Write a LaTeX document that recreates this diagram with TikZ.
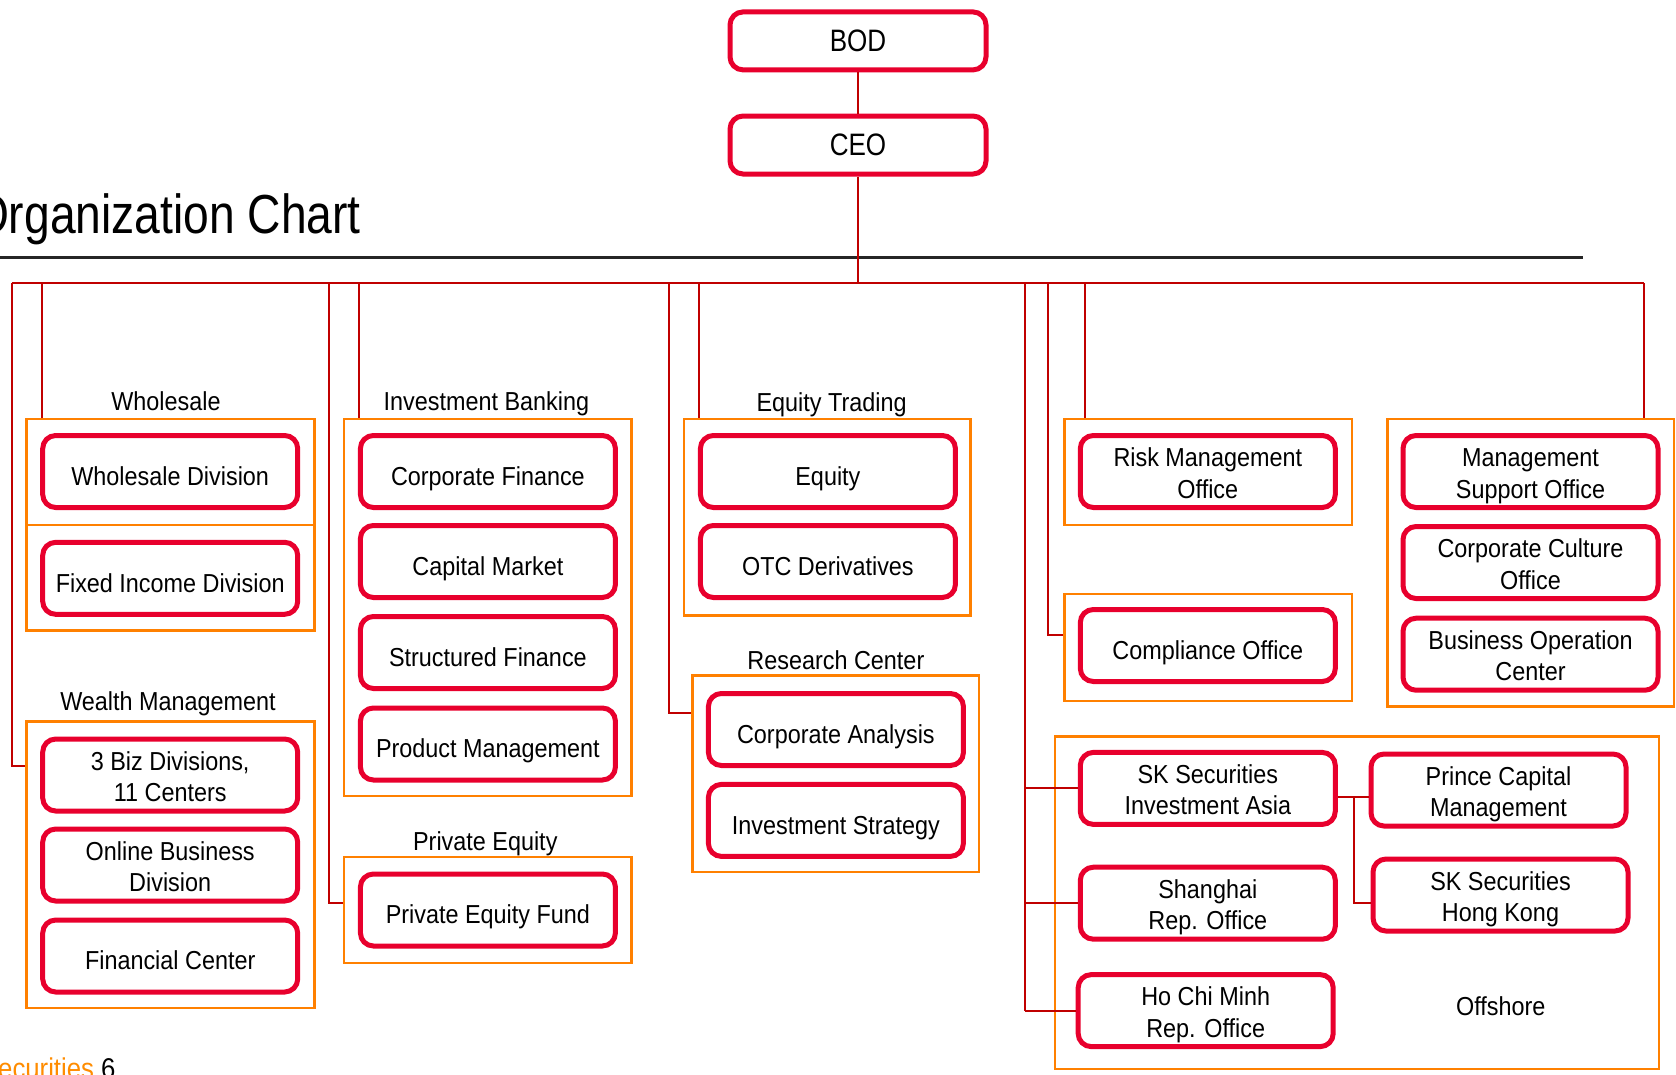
\documentclass[tikz,border=0pt]{standalone}
\usepackage{fontspec}
\setmainfont{Liberation Sans}
\newfontfamily\boxfam{Liberation Sans}[FakeStretch=0.9]
\newfontfamily\titlefam{Liberation Sans}[FakeStretch=0.84]
\usetikzlibrary{fit,calc}
\definecolor{boxred}{RGB}{232,0,45}
\definecolor{grporange}{RGB}{255,128,0}
\definecolor{connred}{RGB}{192,0,0}
\definecolor{footorange}{RGB}{255,140,0}
\newcommand\oneln[1]{\raisebox{-7.5pt}[\height][\depth]{\begin{tabular}{@{}c@{}}#1\end{tabular}}}
\newcommand\twoln[2]{\raisebox{-4.5pt}[\height][\depth]{\begin{tabular}{@{}c@{}}#1\\#2\end{tabular}}}
\tikzset{
  rbox/.style={draw=boxred, line width=5pt, rounded corners=13pt,
    minimum width=255pt, minimum height=72pt, inner sep=0pt,
    font={\boxfam\fontsize{26}{31.5}\selectfont}},
  topbox/.style={rbox, minimum width=256pt, minimum height=58pt,
    font={\titlefam\fontsize{31}{34}\selectfont}},
  obox/.style={draw=grporange, line width=2.5pt, inner sep=0pt},
  conn/.style={draw=connred, line width=2pt},
  lbl/.style={anchor=base, inner sep=0pt, font={\boxfam\fontsize{26}{31.5}\selectfont}}
}
\begin{document}
\begin{tikzpicture}[x=1pt,y=-1pt]
\useasboundingbox (0,0) rectangle (1676,1074);

% title and rule
\node[anchor=base east, inner sep=0pt, font={\titlefam\fontsize{55}{60}\selectfont}] (title) at (361,233) {Organization Chart};
\draw[line width=2.5pt, black!85] (0,257.6) -- (1583,257.6);

% top
\node[topbox] (bod) at (858,40.9) {BOD};
\node[topbox] (ceo) at (858,145) {CEO};

% group frames
\node[obox, fit={(26.7,419) (314.3,630.7)}] (wsgrp) {};
\node[obox, fit={(26.7,721.5) (314.3,1008)}] (wmgrp) {};
\node[obox, fit={(344,419) (631.7,796)}] (ibgrp) {};
\node[obox, fit={(344,857) (631.7,963)}] (pegrp) {};
\node[obox, fit={(684,419) (970.6,615.7)}] (etgrp) {};
\node[obox, fit={(692.6,675.6) (979,872)}] (rcgrp) {};
\node[obox, fit={(1064.6,419) (1352,525)}] (riskgrp) {};
\node[obox, fit={(1064.6,594) (1352,701)}] (compgrp) {};
\node[obox, fit={(1387.5,419) (1674,706.5)}] (msogrp) {};
\node[obox, fit={(1055,736.5) (1659,1069)}] (offgrp) {};
\draw[draw=grporange, line width=2.5pt] (wsgrp.west |- 0,524.8) -- (wsgrp.east |- 0,524.8);

% group labels
\node[lbl] (lws) at (166,410) {Wholesale};
\node[lbl] (lwm) at (168,710) {Wealth Management};
\node[lbl] (lib) at (486.4,410) {Investment Banking};
\node[lbl] (lpe) at (485.3,850) {Private Equity};
\node[lbl] (let) at (831.6,411) {Equity Trading};
\node[lbl] (lrc) at (835.9,669.5) {Research Center};
\node[lbl] (loff) at (1500.8,1015) {Offshore};

% boxes
\node[rbox] (wsd) at (170.2,471.5) {\oneln{Wholesale Division}};
\node[rbox] (fid) at (170.2,578.3) {\oneln{Fixed Income Division}};
\node[rbox] (biz) at (170.2,775) {\twoln{3 Biz Divisions,}{11 Centers}};
\node[rbox] (obd) at (170.2,865) {\twoln{Online Business}{Division}};
\node[rbox] (fc) at (170.2,956) {\oneln{Financial Center}};

\node[rbox] (cf) at (487.9,471.5) {\oneln{Corporate Finance}};
\node[rbox] (cm) at (487.9,561.5) {\oneln{Capital Market}};
\node[rbox] (sf) at (487.9,652.5) {\oneln{Structured Finance}};
\node[rbox] (pm) at (487.9,744) {\oneln{Product Management}};
\node[rbox] (pef) at (487.9,910) {\oneln{Private Equity Fund}};

\node[rbox] (eq) at (827.9,471.5) {\oneln{Equity}};
\node[rbox] (otc) at (827.9,561.5) {\oneln{OTC Derivatives}};
\node[rbox] (ca) at (835.9,729.5) {\oneln{Corporate Analysis}};
\node[rbox] (is) at (835.9,820.4) {\oneln{Investment Strategy}};

\node[rbox] (rmo) at (1207.8,471.5) {\twoln{Risk Management}{Office}};
\node[rbox] (co) at (1207.8,645.5) {\oneln{Compliance Office}};

\node[rbox] (mso) at (1530.5,471.5) {\twoln{Management}{Support Office}};
\node[rbox] (cco) at (1530.5,562.5) {\twoln{Corporate Culture}{Office}};
\node[rbox] (boc) at (1530.5,654.2) {\twoln{Business Operation}{Center}};

\node[rbox] (skia) at (1207.8,788.4) {\twoln{SK Securities}{Investment Asia}};
\node[rbox] (sh) at (1207.8,903.2) {\twoln{Shanghai}{Rep. Office}};
\node[rbox] (hcm) at (1205.7,1010.6) {\twoln{Ho Chi Minh}{Rep. Office}};
\node[rbox] (pcm) at (1498.5,790) {\twoln{Prince Capital}{Management}};
\node[rbox] (hk) at (1500.5,895) {\twoln{SK Securities}{Hong Kong}};

% connectors
\coordinate (busL) at (11.8,283);
\coordinate (busR) at (1644,283);
\draw[conn] (bod) -- (ceo);
\draw[conn] (ceo.south) -- (ceo.south |- busL);
\draw[conn] (busL) -- (busR);
\draw[conn] (busL) |- (wmgrp.west |- 0,766);
\draw[conn] (busL -| 41.7,0) -- (wsgrp.north -| 41.7,0);
\draw[conn] (busL -| 329,0) |- (pegrp.west |- 0,903);
\draw[conn] (busL -| 359,0) -- (ibgrp.north -| 359,0);
\draw[conn] (busL -| 669,0) |- (rcgrp.west |- 0,713);
\draw[conn] (busL -| 699,0) -- (etgrp.north -| 699,0);
\draw[conn] (busL -| 1025,0) -- (hcm.west -| 1025,0);
\draw[conn] (skia.west -| 1025,0) -- (skia.west);
\draw[conn] (sh.west -| 1025,0) -- (sh.west);
\draw[conn] (hcm.west -| 1025,0) -- (hcm.west);
\draw[conn] (busL -| 1047.5,0) |- (compgrp.west |- 0,635);
\draw[conn] (busL -| 1085,0) -- (riskgrp.north -| 1085,0);
\draw[conn] (busR) -- (busR |- msogrp.north);
\coordinate (ojn) at (1354,797);
\draw[conn] (skia.east |- ojn) -- (pcm.west |- ojn);
\draw[conn] (ojn) |- (hk.west |- 0,903);

% footer
\node[anchor=base west, inner sep=0pt, text=footorange, font={\boxfam\fontsize{28.6}{32}\selectfont}] (foot) at (-2,1078) {ecurities\ \textcolor{black}{6}};
\end{tikzpicture}
\end{document}
